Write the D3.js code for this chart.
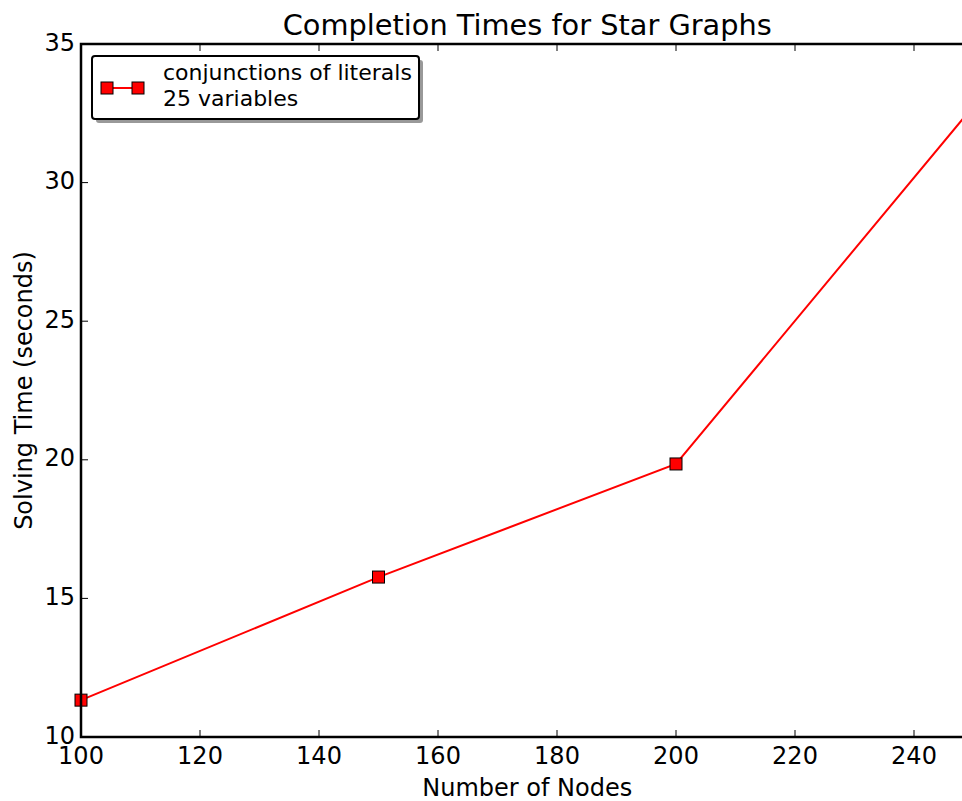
<!DOCTYPE html>
<html>
<head>
<meta charset="utf-8">
<script src="https://d3js.org/d3.v7.min.js"></script>
<style>
  body { margin: 0; background: #fff; }
  text { font-family: "DejaVu Sans", sans-serif; fill: #000; }
</style>
</head>
<body>
<div id="my_dataviz"></div>
<script>
// data
var nodes = [100, 150, 200, 250];
var times = [11.33, 15.77, 19.85, 32.76];
var xTicks = [100, 120, 140, 160, 180, 200, 220, 240];
var yTicks = [10, 15, 20, 25, 30, 35];
var legendLines = ["conjunctions of literals", "25 variables"];

var W = 962, H = 801;
// axes box (right side runs past the window, as in the original)
var margin = {top: 44, left: 81},
    width = 892.5,
    height = 693;

var svg = d3.select("#my_dataviz")
  .append("svg")
  .attr("width", W)
  .attr("height", H);

var g = svg.append("g")
  .attr("transform", "translate(" + margin.left + "," + margin.top + ")");

var x = d3.scaleLinear().domain([100, 250]).range([0, width]);
var y = d3.scaleLinear().domain([10, 35]).range([height, 0]);

// ticks, inward on all sides
var tickLen = 7;
g.selectAll(".xt").data(xTicks).enter().append("line")
  .attr("x1", d => x(d)).attr("x2", d => x(d))
  .attr("y1", height).attr("y2", height - tickLen)
  .attr("stroke", "#000").attr("stroke-width", 1);
g.selectAll(".xtt").data(xTicks).enter().append("line")
  .attr("x1", d => x(d)).attr("x2", d => x(d))
  .attr("y1", 0).attr("y2", tickLen)
  .attr("stroke", "#000").attr("stroke-width", 1);
g.selectAll(".yt").data(yTicks).enter().append("line")
  .attr("x1", 0).attr("x2", tickLen)
  .attr("y1", d => y(d)).attr("y2", d => y(d))
  .attr("stroke", "#000").attr("stroke-width", 1);

// tick labels
g.selectAll(".xl").data(xTicks).enter().append("text")
  .attr("x", d => x(d)).attr("y", height + 27)
  .attr("text-anchor", "middle")
  .style("font-size", "24px")
  .text(d => d);
g.selectAll(".yl").data(yTicks).enter().append("text")
  .attr("x", -6).attr("y", d => y(d) + 6.5)
  .attr("text-anchor", "end")
  .style("font-size", "24px")
  .text(d => d);

// the series
var line = d3.line().x((d, i) => x(nodes[i])).y(d => y(d));
g.append("path")
  .datum(times)
  .attr("fill", "none")
  .attr("stroke", "#ff0000")
  .attr("stroke-width", 2)
  .attr("d", line);

var ms = 12;
g.selectAll(".pt").data(times).enter().append("rect")
  .attr("x", (d, i) => x(nodes[i]) - ms / 2)
  .attr("y", d => y(d) - ms / 2)
  .attr("width", ms).attr("height", ms)
  .attr("fill", "#ff0000")
  .attr("stroke", "#000").attr("stroke-width", 1);

// spines
g.append("rect")
  .attr("x", 0).attr("y", 0)
  .attr("width", width).attr("height", height)
  .attr("fill", "none")
  .attr("stroke", "#000").attr("stroke-width", 2.5);

// legend
var lg = g.append("g").attr("transform", "translate(11,12)");
lg.append("rect")
  .attr("x", 4).attr("y", 4)
  .attr("width", 327).attr("height", 63)
  .attr("rx", 3)
  .attr("fill", "#999").attr("stroke", "none");
lg.append("rect")
  .attr("x", 0).attr("y", 0)
  .attr("width", 327).attr("height", 63)
  .attr("rx", 3)
  .attr("fill", "#fff").attr("stroke", "#000").attr("stroke-width", 2);
lg.append("line")
  .attr("x1", 15).attr("x2", 46).attr("y1", 32).attr("y2", 32)
  .attr("stroke", "#ff0000").attr("stroke-width", 2);
[15, 46].forEach(function(cx) {
  lg.append("rect")
    .attr("x", cx - ms / 2).attr("y", 32 - ms / 2)
    .attr("width", ms).attr("height", ms)
    .attr("fill", "#ff0000")
    .attr("stroke", "#000").attr("stroke-width", 1);
});
lg.selectAll(".lt").data(legendLines).enter().append("text")
  .attr("x", 71).attr("y", (d, i) => 24 + i * 25.5)
  .style("font-size", "22px")
  .text(d => d);

// title and axis labels
svg.append("text")
  .attr("x", margin.left + width / 2).attr("y", 35)
  .attr("text-anchor", "middle")
  .style("font-size", "28.8px")
  .text("Completion Times for Star Graphs");
svg.append("text")
  .attr("x", margin.left + width / 2).attr("y", 796)
  .attr("text-anchor", "middle")
  .style("font-size", "24px")
  .text("Number of Nodes");
svg.append("text")
  .attr("transform", "translate(32," + (margin.top + height / 2) + ") rotate(-90)")
  .attr("text-anchor", "middle")
  .style("font-size", "24px")
  .text("Solving Time (seconds)");
</script>
</body>
</html>
